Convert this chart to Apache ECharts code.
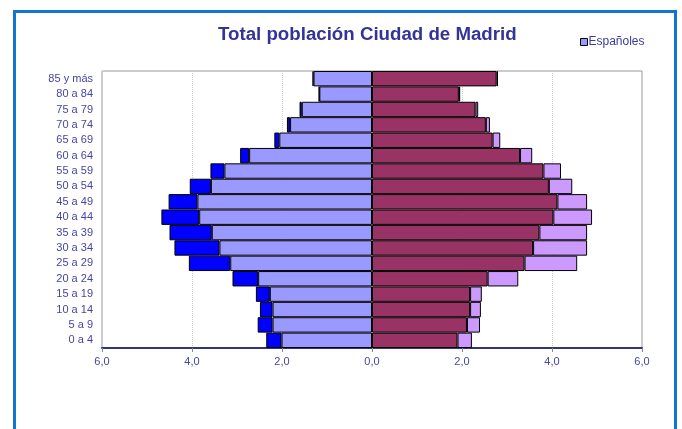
<!DOCTYPE html>
<html>
<head>
<meta charset="utf-8">
<script src="https://cdn.jsdelivr.net/npm/echarts@6/dist/echarts.min.js"></script>
<style>
html,body{margin:0;padding:0;background:#fff;}
#c{width:682px;height:429px;}
</style>
</head>
<body>
<div id="c"></div>
<script>
var categories = ['0 a 4','5 a 9','10 a 14','15 a 19','20 a 24','25 a 29','30 a 34','35 a 39','40 a 44','45 a 49','50 a 54','55 a 59','60 a 64','65 a 69','70 a 74','75 a 79','80 a 84','85 y más'];
// Valores (%), de 0 a 4 hasta 85 y más
var hombresEspanoles   = [2.01,2.21,2.21,2.27,2.53,3.15,3.39,3.56,3.84,3.88,3.58,3.28,2.73,2.06,1.82,1.56,1.17,1.30];
var hombresExtranjeros = [0.34,0.33,0.28,0.31,0.57,0.92,1.00,0.94,0.84,0.64,0.47,0.31,0.20,0.11,0.07,0.05,0.01,0.02];
var mujeresEspanolas   = [1.90,2.11,2.18,2.18,2.57,3.39,3.58,3.72,4.03,4.12,3.93,3.81,3.29,2.68,2.53,2.30,1.93,2.77];
var mujeresExtranjeras = [0.32,0.29,0.24,0.26,0.68,1.17,1.20,1.06,0.86,0.66,0.52,0.39,0.27,0.17,0.09,0.06,0.03,0.03];
var xTicks = [-6,-4,-2,0,2,4,6];

var neg = function(a){return a.map(function(v){return -v;});};
var font = 'Arial, "Liberation Sans", sans-serif';
var chart = echarts.init(document.getElementById('c'), null, {renderer:'canvas'});
var barStyle = function(color){return {color:color,borderColor:'#000',borderWidth:1};};
chart.setOption({
  backgroundColor:'#fff',
  animation:false,
  title:{text:'Total población Ciudad de Madrid',left:213,top:20,
    textStyle:{fontFamily:font,fontSize:18.7,fontWeight:'bold',color:'#333399'}},
  legend:{data:['Españoles'],left:580,top:36,padding:0,itemWidth:7,itemHeight:7,icon:'rect',
    textStyle:{fontFamily:font,fontSize:12,color:'#3a3a9e',padding:[0,0,0,-4]},
    itemStyle:{borderColor:'#000',borderWidth:1}},
  graphic:[{type:'rect',shape:{x:14.5,y:11.5,width:661,height:440},
    style:{fill:'none',stroke:'#1177CC',lineWidth:3},silent:true}],
  grid:{left:102,right:40,top:71,bottom:81,show:true,borderColor:'#999',borderWidth:1,backgroundColor:'#fff'},
  xAxis:{type:'value',min:-6,max:6,interval:2,
    axisLine:{show:true,onZero:false,lineStyle:{color:'#333377',width:2}},
    axisTick:{show:true,length:4,lineStyle:{color:'#888'}},
    axisLabel:{fontFamily:font,fontSize:11,color:'#4545A3',margin:8,
      formatter:function(v){return Math.abs(v).toFixed(1).replace('.',',');}},
    splitLine:{show:true,lineStyle:{color:'#ccc',type:'dotted'}}},
  yAxis:{type:'category',data:categories,
    axisLine:{show:false},axisTick:{show:false},
    axisLabel:{fontFamily:font,fontSize:11,color:'#4545A3',margin:9}},
  series:[
    {name:'Españoles',type:'bar',stack:'p',barCategoryGap:'0%',data:neg(hombresEspanoles),itemStyle:barStyle('#9999FF')},
    {name:'Hombres extranjeros',type:'bar',stack:'p',data:neg(hombresExtranjeros),itemStyle:barStyle('#0000FF')},
    {name:'Mujeres españolas',type:'bar',stack:'p',data:mujeresEspanolas,itemStyle:barStyle('#993366')},
    {name:'Mujeres extranjeras',type:'bar',stack:'p',data:mujeresExtranjeras,itemStyle:barStyle('#CC99FF')}
  ]
});
</script>
</body>
</html>
